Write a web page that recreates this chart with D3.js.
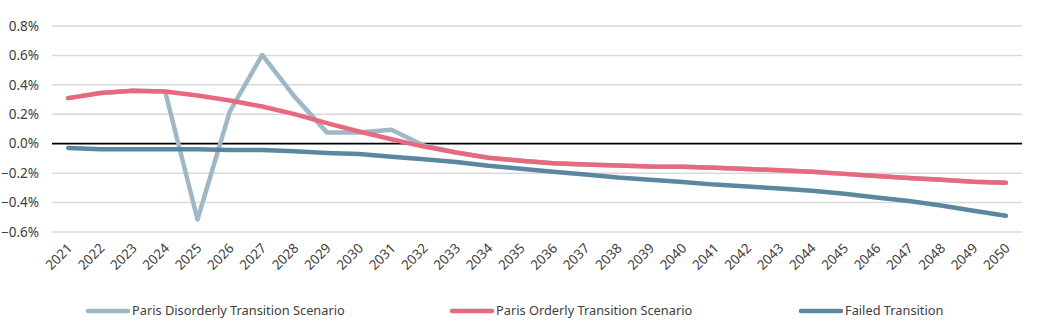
<!DOCTYPE html>
<html>
<head>
<meta charset="utf-8">
<script src="https://cdn.jsdelivr.net/npm/d3@7"></script>
<style>
  body { margin: 0; background: #fff; }
  text { font-family: "Noto Sans", sans-serif; fill: #404040; }
</style>
</head>
<body>
<div id="chart"></div>
<script>
// data (percent values)
var years = d3.range(2021, 2051).map(String);
var disorderly = [0.31, 0.344, 0.36, 0.355, -0.515, 0.22, 0.603, 0.32, 0.077, 0.077,
  0.095, -0.012, -0.06, -0.095, -0.115, -0.132, -0.142, -0.148, -0.155, -0.157,
  -0.163, -0.172, -0.18, -0.19, -0.205, -0.22, -0.233, -0.245, -0.258, -0.265];
var orderly = [0.31, 0.344, 0.36, 0.355, 0.328, 0.294, 0.253, 0.201, 0.14, 0.083,
  0.03, -0.02, -0.06, -0.095, -0.115, -0.132, -0.142, -0.148, -0.155, -0.157,
  -0.163, -0.172, -0.18, -0.19, -0.205, -0.22, -0.233, -0.245, -0.258, -0.265];
var failed = [-0.029, -0.037, -0.038, -0.038, -0.038, -0.042, -0.043, -0.052, -0.063, -0.07,
  -0.088, -0.105, -0.125, -0.15, -0.17, -0.19, -0.21, -0.23, -0.245, -0.26,
  -0.278, -0.29, -0.305, -0.32, -0.34, -0.365, -0.39, -0.42, -0.455, -0.49];
var yTicks = [-0.6, -0.4, -0.2, 0, 0.2, 0.4, 0.6, 0.8];

var series = [
  {name: "Paris Disorderly Transition Scenario", values: disorderly, color: "#9fb8c6"},
  {name: "Paris Orderly Transition Scenario", values: orderly, color: "#e8697d"},
  {name: "Failed Transition", values: failed, color: "#5b87a0"}
];

var width = 1040, height = 331;
var margin = {top: 26, right: 18, bottom: 99, left: 52};

var svg = d3.select("#chart").append("svg")
  .attr("width", width)
  .attr("height", height);

var x = d3.scaleBand()
  .domain(years)
  .range([margin.left, width - margin.right]);

var y = d3.scaleLinear()
  .domain([-0.6, 0.8])
  .range([height - margin.bottom, margin.top]);

// gridlines
svg.append("g")
  .selectAll("line")
  .data(yTicks)
  .enter()
  .append("line")
  .attr("x1", margin.left)
  .attr("x2", width - margin.right)
  .attr("y1", function(d) { return y(d); })
  .attr("y2", function(d) { return y(d); })
  .attr("stroke", function(d) { return d === 0 ? "#000" : "#d9d9d9"; })
  .attr("stroke-width", function(d) { return d === 0 ? 1.8 : 1.5; });

// y labels
svg.append("g")
  .selectAll("text")
  .data(yTicks)
  .enter()
  .append("text")
  .attr("x", 39)
  .attr("y", function(d) { return y(d); })
  .attr("dy", "0.35em")
  .attr("text-anchor", "end")
  .style("font-size", "13.5px")
  .text(function(d) { return d3.format(".1f")(d) + "%"; });

// x labels
svg.append("g")
  .selectAll("text")
  .data(years)
  .enter()
  .append("text")
  .attr("transform", function(d) {
    return "translate(" + (x(d) + x.bandwidth() / 2 + 5) + "," + (height - margin.bottom + 17) + ") rotate(-45)";
  })
  .attr("text-anchor", "end")
  .style("font-size", "13.5px")
  .text(function(d) { return d; });

// lines
var line = d3.line()
  .x(function(d, i) { return x(years[i]) + x.bandwidth() / 2; })
  .y(function(d) { return y(d); });

svg.append("g")
  .selectAll("path")
  .data(series)
  .enter()
  .append("path")
  .attr("d", function(s) { return line(s.values); })
  .attr("fill", "none")
  .attr("stroke", function(s) { return s.color; })
  .attr("stroke-width", 4.5)
  .attr("stroke-linecap", "round")
  .attr("stroke-linejoin", "round");

// legend
var legendX = [88, 452, 801];
var legend = svg.append("g")
  .selectAll("g")
  .data(series)
  .enter()
  .append("g")
  .attr("transform", function(s, i) { return "translate(" + legendX[i] + ",311)"; });

legend.append("line")
  .attr("x1", 0)
  .attr("x2", 40)
  .attr("stroke", function(s) { return s.color; })
  .attr("stroke-width", 4.5)
  .attr("stroke-linecap", "round");

legend.append("text")
  .attr("x", 44)
  .attr("dy", "0.35em")
  .style("font-size", "12.8px")
  .text(function(s) { return s.name; });
</script>
</body>
</html>
